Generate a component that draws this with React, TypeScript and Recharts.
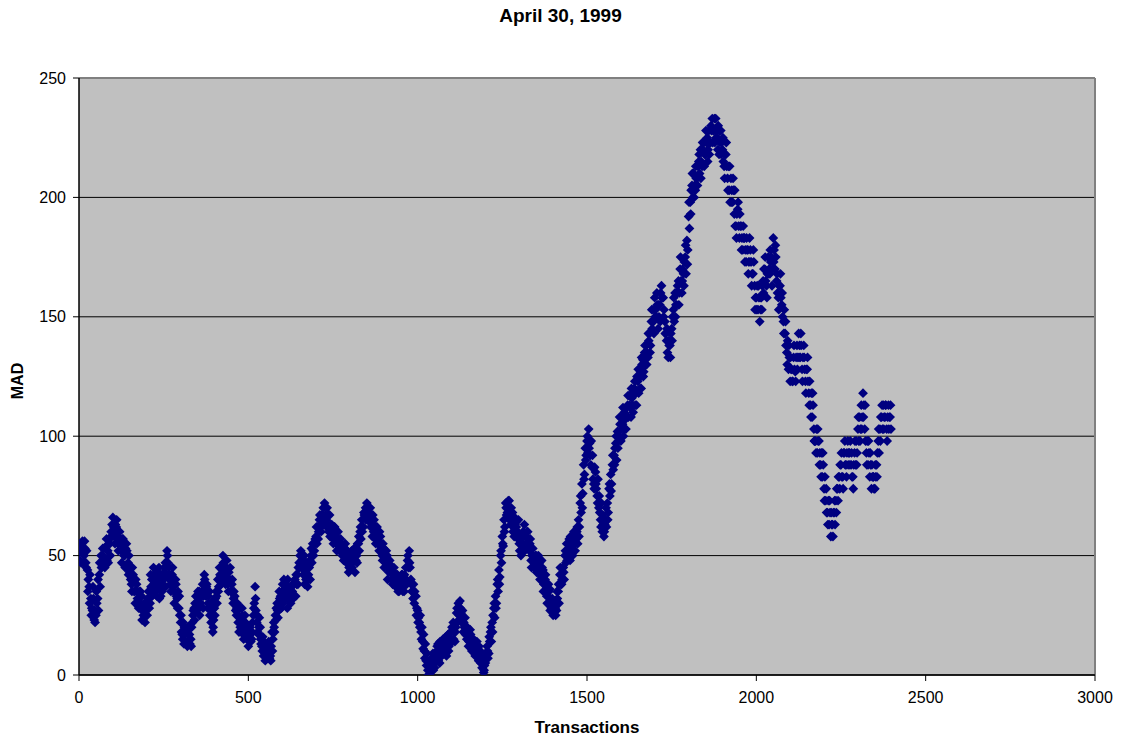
import React from 'react';
import { ScatterChart, Scatter, XAxis, YAxis, CartesianGrid, ReferenceLine } from 'recharts';

const TITLE = 'April 30, 1999';
const X_LABEL = 'Transactions';
const Y_LABEL = 'MAD';
const xTicks = [0, 500, 1000, 1500, 2000, 2500, 3000];
const yTicks = [0, 50, 100, 150, 200, 250];
const STEP = 5; // transactions between recorded samples of one list

// MAD values, one per 5 transactions (t = 0, 5, ... 2395)
const madA = [
  55, 52, 56, 50, 47, 44, 37, 32, 27, 23, 25, 32, 42, 50, 53, 48, 54, 52, 57, 60,
  66, 58, 62, 55, 60, 52, 57, 50, 55, 47, 43, 38, 42, 35, 38, 32, 28, 33, 25, 22,
  28, 35, 30, 40, 45, 38, 33, 37, 42, 35, 40, 47, 52, 45, 38, 42, 35, 40, 32, 28,
  22, 17, 13, 18, 12, 20, 15, 22, 28, 33, 28, 35, 30, 38, 42, 33, 28, 35, 22, 18,
  28, 35, 40, 45, 38, 50, 42, 45, 38, 40, 35, 30, 33, 25, 22, 28, 20, 17, 25, 15,
  12, 20, 15, 25, 37, 22, 17, 20, 12, 8, 6, 10, 14, 8, 18, 22, 25, 30, 27, 33,
  35, 40, 32, 28, 36, 30, 35, 38, 33, 42, 47, 52, 45, 50, 40, 37, 45, 50, 55, 52,
  58, 62, 65, 60, 67, 72, 65, 62, 67, 60, 57, 62, 55, 60, 52, 55, 50, 53, 47, 50,
  45, 52, 48, 43, 50, 55, 60, 65, 62, 68, 72, 66, 70, 63, 60, 57, 62, 55, 58, 50,
  53, 47, 50, 43, 46, 40, 45, 37, 42, 35, 38, 42, 35, 45, 48, 52, 40, 35, 30, 33,
  27, 22, 18, 14, 10, 6, 2, 0, 5, 9, 3, 8, 13, 5, 10, 15, 12, 8, 17, 13,
  18, 22, 14, 26, 30, 31, 22, 18, 24, 15, 12, 19, 10, 15, 8, 14, 6, 10, 3, 1,
  5, 12, 9, 18, 22, 28, 33, 38, 44, 50, 58, 65, 72, 68, 73, 63, 68, 58, 64, 60,
  55, 50, 58, 63, 55, 60, 52, 48, 53, 45, 50, 43, 47, 40, 44, 38, 35, 30, 36, 28,
  25, 30, 27, 35, 42, 38, 45, 50, 55, 52, 48, 55, 58, 52, 60, 65, 72, 80, 88, 95,
  98, 103, 92, 87, 80, 85, 75, 70, 65, 60, 58, 65, 72, 78, 84, 88, 92, 97, 102, 100,
  98, 105, 110, 103, 113, 117, 108, 113, 120, 118, 123, 128, 120, 132, 135, 138, 133, 143, 148, 153,
  158, 150, 145, 155, 163, 158, 148, 140, 133, 138, 145, 153, 160, 155, 165, 170, 160, 168, 175, 182,
  192, 198, 205, 210, 203, 208, 215, 220, 213, 223, 218, 225, 228, 223, 233, 228, 233, 225, 218, 228,
  220, 213, 218, 208, 203, 208, 198, 193, 188, 195, 183, 188, 178, 183, 173, 178, 183, 173, 168, 163,
  158, 153, 148, 158, 165, 170, 163, 175, 168, 175, 183, 170, 165, 158, 163, 155, 148, 143, 135, 128,
  123, 128, 133, 127, 138, 143, 133, 128, 138, 123, 128, 118, 113, 108, 103, 98, 93, 98, 88, 83,
  78, 73, 68, 63, 58, 63, 68, 73, 78, 83, 88, 83, 93, 88, 98, 93, 88, 83, 93, 98,
  103, 108, 113, 118, 103, 93, 88, 83, 78, 83, 78, 88, 98, 103, 108, 113, 108, 103, 113, 108,
];

const madB = [
  48, 55, 47, 53, 52, 40, 42, 28, 32, 22, 30, 27, 37, 45, 47, 53, 48, 57, 50, 63,
  62, 63, 57, 60, 55, 57, 50, 53, 45, 50, 40, 45, 35, 40, 32, 35, 30, 27, 30, 27,
  32, 28, 37, 35, 40, 43, 38, 32, 37, 40, 45, 42, 47, 40, 42, 37, 40, 33, 35, 25,
  18, 22, 17, 13, 17, 13, 20, 27, 30, 27, 32, 30, 35, 33, 37, 38, 33, 30, 27, 23,
  32, 30, 37, 40, 45, 45, 38, 40, 43, 35, 40, 35, 27, 30, 18, 23, 25, 22, 18, 20,
  17, 14, 22, 30, 27, 18, 24, 13, 16, 12, 9, 13, 7, 12, 15, 18, 28, 24, 32, 28,
  30, 36, 38, 33, 31, 37, 32, 40, 38, 45, 50, 48, 42, 44, 45, 42, 40, 47, 50, 57,
  55, 60, 62, 67, 63, 67, 70, 60, 63, 58, 62, 58, 60, 53, 57, 50, 53, 48, 52, 45,
  50, 47, 53, 48, 55, 52, 57, 62, 67, 65, 68, 70, 64, 67, 58, 62, 55, 60, 52, 55,
  48, 52, 45, 48, 40, 43, 38, 42, 35, 40, 42, 37, 40, 38, 45, 45, 35, 38, 33, 28,
  24, 25, 20, 17, 13, 9, 5, 3, 2, 6, 7, 12, 9, 11, 14, 10, 16, 13, 12, 18,
  14, 18, 20, 22, 25, 26, 27, 20, 20, 19, 16, 14, 15, 12, 12, 10, 10, 7, 6, 4,
  9, 7, 14, 14, 25, 24, 30, 35, 41, 47, 54, 62, 67, 73, 68, 68, 62, 63, 60, 65,
  58, 55, 53, 58, 60, 55, 57, 50, 48, 50, 45, 48, 42, 45, 38, 42, 30, 35, 32, 32,
  28, 25, 32, 30, 38, 45, 40, 47, 50, 57, 53, 50, 55, 57, 55, 62, 68, 76, 84, 92,
  93, 97, 98, 82, 87, 78, 82, 68, 72, 63, 63, 62, 68, 75, 80, 86, 95, 90, 98, 105,
  103, 100, 107, 112, 108, 112, 116, 118, 113, 125, 118, 125, 130, 127, 130, 135, 140, 138, 145, 143,
  153, 155, 150, 160, 158, 153, 143, 135, 138, 143, 150, 148, 155, 163, 160, 165, 170, 173, 168, 178,
  187, 203, 200, 205, 208, 213, 210, 215, 220, 218, 223, 220, 223, 228, 228, 223, 228, 230, 223, 223,
  215, 218, 213, 213, 198, 203, 203, 188, 193, 188, 188, 183, 183, 178, 178, 173, 178, 168, 173, 158,
  163, 158, 153, 163, 170, 165, 168, 170, 173, 170, 178, 175, 160, 163, 158, 150, 153, 138, 140, 133,
  128, 123, 128, 133, 133, 138, 138, 133, 128, 128, 123, 123, 118, 113, 98, 103, 98, 93, 93, 88,
  83, 68, 73, 68, 63, 68, 63, 78, 83, 88, 83, 93, 88, 93, 93, 98, 83, 88, 88, 93,
  98, 103, 108, 113, 98, 98, 93, 88, 83, 78, 83, 93, 93, 108, 103, 108, 113, 108, 108, 103,
];

// band-edge MAD values (t = 1.25, 6.25, ... 2396.25)
const madC = [
  52, 47, 53, 56, 45, 35, 30, 25, 37, 27, 35, 40, 47, 45, 50, 45, 57, 47, 55, 58,
  60, 55, 65, 52, 57, 47, 53, 45, 52, 42, 45, 35, 40, 30, 35, 28, 35, 23, 28, 25,
  25, 32, 42, 33, 38, 35, 40, 45, 33, 38, 43, 37, 50, 42, 35, 45, 30, 38, 28, 33,
  25, 15, 20, 14, 20, 17, 12, 25, 23, 30, 35, 25, 33, 28, 40, 37, 30, 25, 30, 20,
  25, 33, 35, 42, 42, 47, 40, 48, 35, 45, 38, 32, 30, 28, 25, 20, 28, 15, 22, 17,
  15, 17, 18, 28, 32, 25, 20, 15, 10, 14, 8, 7, 11, 6, 10, 20, 23, 27, 35, 30,
  38, 33, 35, 40, 32, 35, 38, 33, 42, 38, 45, 45, 48, 38, 47, 40, 48, 53, 52, 55,
  62, 57, 67, 63, 70, 65, 62, 67, 58, 63, 55, 60, 52, 57, 55, 52, 48, 55, 50, 43,
  48, 45, 50, 52, 47, 58, 62, 60, 68, 70, 65, 68, 62, 58, 65, 55, 58, 52, 55, 48,
  45, 50, 40, 45, 43, 38, 42, 40, 38, 37, 40, 35, 42, 40, 50, 47, 38, 32, 35, 25,
  22, 20, 15, 11, 7, 4, 0, 4, 7, 2, 5, 10, 6, 14, 8, 12, 9, 15, 10, 15,
  20, 15, 18, 28, 23, 28, 24, 22, 17, 20, 14, 17, 12, 10, 14, 8, 12, 5, 8, 2,
  7, 10, 16, 20, 18, 30, 28, 40, 38, 52, 55, 60, 70, 70, 65, 70, 60, 66, 62, 57,
  52, 57, 60, 52, 58, 53, 55, 45, 50, 47, 43, 50, 40, 48, 35, 40, 33, 38, 27, 30,
  30, 28, 35, 38, 45, 40, 43, 52, 48, 55, 58, 53, 60, 55, 62, 58, 75, 70, 82, 90,
  100, 95, 88, 92, 78, 80, 72, 75, 62, 67, 60, 70, 65, 80, 77, 92, 88, 100, 95, 108,
  108, 112, 103, 108, 117, 113, 120, 110, 123, 113, 128, 120, 133, 125, 138, 130, 143, 135, 153, 148,
  150, 160, 155, 148, 158, 150, 143, 145, 140, 133, 140, 158, 150, 160, 155, 175, 165, 163, 180, 172,
  198, 193, 210, 200, 213, 205, 218, 208, 223, 213, 228, 215, 218, 230, 223, 233, 225, 220, 228, 218,
  225, 208, 223, 203, 213, 198, 208, 203, 183, 198, 193, 178, 188, 173, 183, 168, 173, 163, 178, 153,
  153, 163, 158, 153, 160, 175, 158, 168, 178, 163, 173, 180, 168, 153, 168, 160, 143, 148, 130, 138,
  133, 123, 138, 123, 128, 133, 143, 123, 133, 118, 133, 113, 108, 118, 98, 93, 103, 88, 83, 93,
  73, 78, 63, 73, 68, 58, 73, 68, 73, 78, 93, 78, 98, 83, 88, 88, 93, 78, 98, 88,
  108, 98, 103, 108, 113, 88, 98, 93, 88, 83, 88, 83, 103, 98, 113, 103, 113, 98, 103, 113,
];

const data = [
  ...madA.map((v, i) => ({ x: i * STEP, y: v })),
  ...madC.map((v, i) => ({ x: i * STEP + STEP / 4, y: v })),
  ...madB.map((v, i) => ({ x: i * STEP + STEP / 2, y: v })),
];

const FONT = '"Liberation Sans", Arial, sans-serif';

const Diamond = (props: any) => {
  const { cx, cy } = props;
  if (cx == null || cy == null) return null;
  const h = 4.9;
  return (
    <path
      d={`M${cx},${cy - h}L${cx + h},${cy}L${cx},${cy + h}L${cx - h},${cy}Z`}
      fill="#000080"
    />
  );
};

export default function App() {
  return (
    <div style={{ position: 'absolute', left: 0, top: 0, width: 1121, height: 742, background: '#fff' }}>
      <ScatterChart width={1121} height={742} margin={{ top: 78, right: 26, bottom: 0, left: 0 }}>
        <CartesianGrid fill="#C0C0C0" stroke="#000" vertical={false} />
        <XAxis
          type="number"
          dataKey="x"
          domain={[0, 3000]}
          ticks={xTicks}
          height={67}
          axisLine={{ stroke: '#000', strokeWidth: 1.5 }}
          tickLine={{ stroke: '#000' }}
          tickSize={6}
          tickMargin={11}
          tick={{ fill: '#000', fontSize: 16, fontFamily: FONT }}
          allowDataOverflow
        />
        <YAxis
          type="number"
          dataKey="y"
          domain={[0, 250]}
          ticks={yTicks}
          width={79}
          axisLine={{ stroke: '#000', strokeWidth: 1.5 }}
          tickLine={{ stroke: '#000' }}
          tickSize={6}
          tickMargin={7}
          tick={{ fill: '#000', fontSize: 16, fontFamily: FONT }}
          allowDataOverflow
        />
        <ReferenceLine y={250} stroke="#808080" strokeWidth={2} />
        <ReferenceLine x={3000} stroke="#808080" strokeWidth={2} />
        <Scatter data={data} shape={Diamond} fill="#000080" isAnimationActive={false} />
      </ScatterChart>
      <div
        style={{
          position: 'absolute', left: 0, width: 1121, top: 5, textAlign: 'center',
          fontFamily: FONT, fontWeight: 'bold', fontSize: 19, color: '#000',
        }}
      >
        {TITLE}
      </div>
      <div
        style={{
          position: 'absolute', left: 487, width: 200, top: 718, textAlign: 'center',
          fontFamily: FONT, fontWeight: 'bold', fontSize: 17, color: '#000',
        }}
      >
        {X_LABEL}
      </div>
      <div
        style={{
          position: 'absolute', left: 18, top: 381, width: 0, height: 0,
        }}
      >
        <div
          style={{
            position: 'absolute', left: -50, top: -10, width: 100, height: 20, lineHeight: '20px',
            textAlign: 'center', transform: 'rotate(-90deg)',
            fontFamily: FONT, fontWeight: 'bold', fontSize: 16, color: '#000',
          }}
        >
          {Y_LABEL}
        </div>
      </div>
    </div>
  );
}
